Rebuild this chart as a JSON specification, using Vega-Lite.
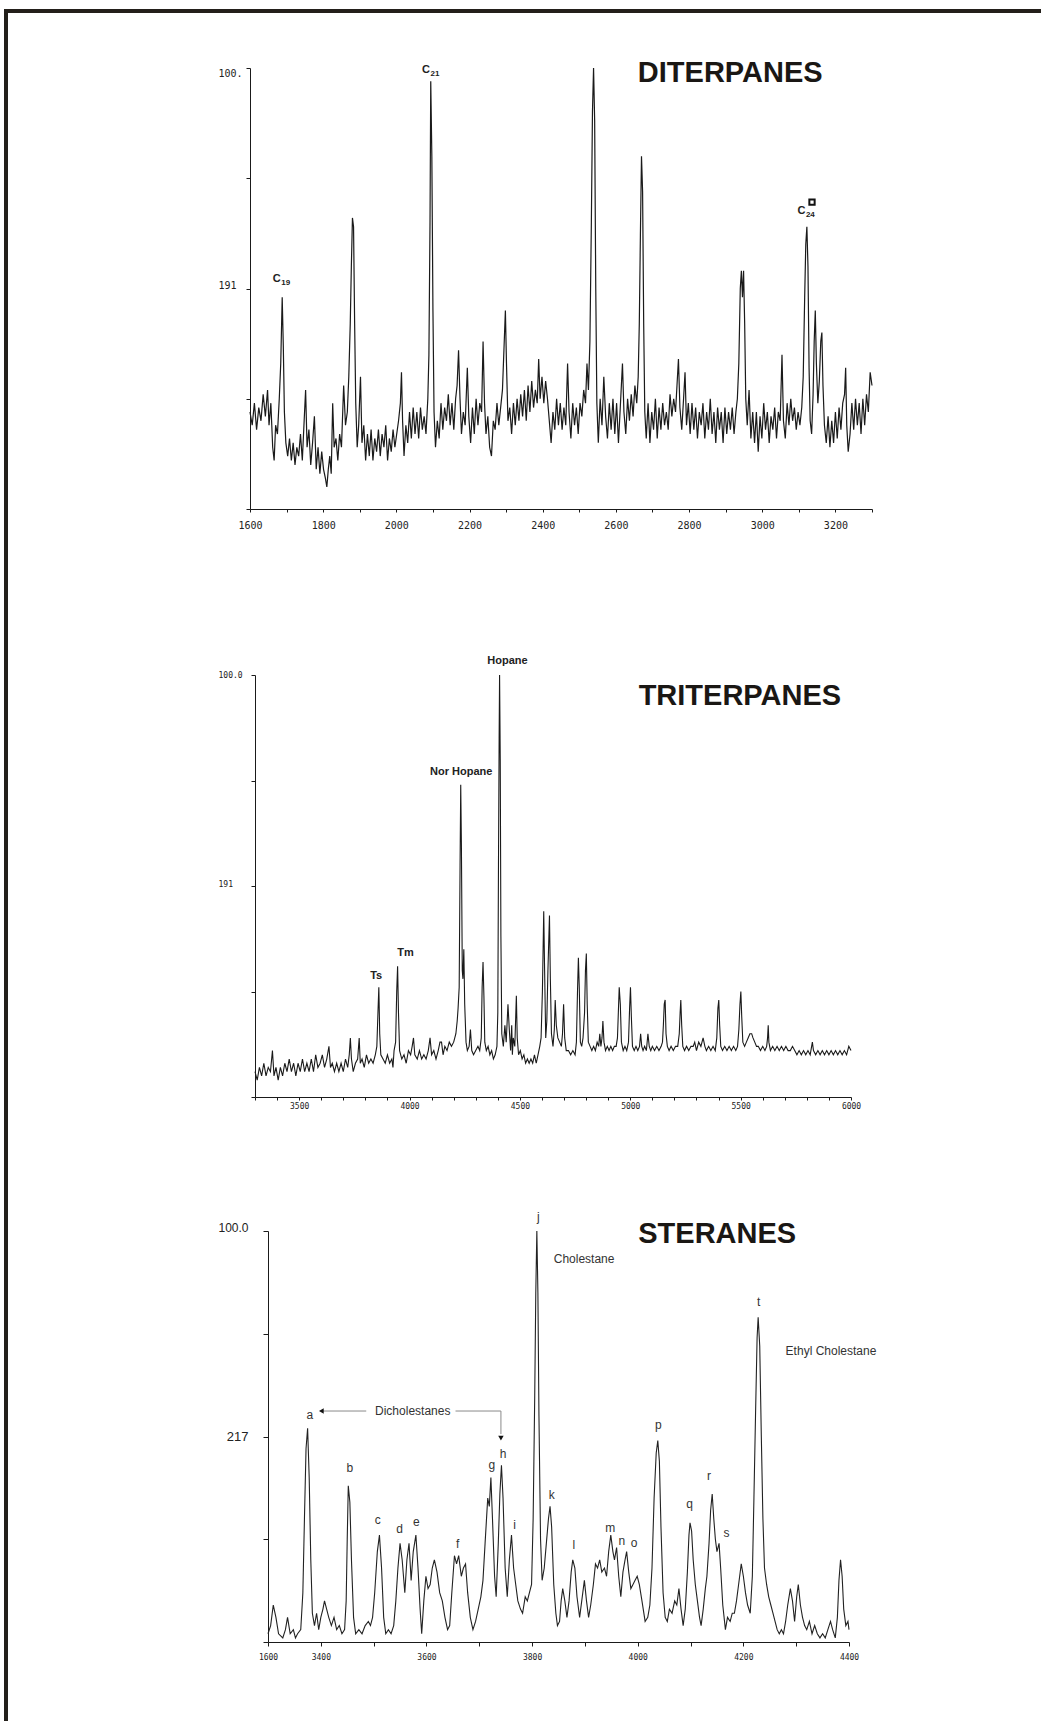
{
"$schema": "https://vega.github.io/schema/vega-lite/v6.json",
"padding": {"left": 4, "top": 9, "right": 0, "bottom": 0},
"background": "white",
"config": {"view": {"stroke": null}, "font": "Liberation Sans", "axis": {"grid": false, "domainColor": "#1a1a1a", "tickColor": "#1a1a1a", "labelColor": "#222", "labelFlush": false, "labelOverlap": false}},
"datasets": {
"dit": [{"t":1600,"v":22},{"t":1606,"v":19},{"t":1612,"v":24},{"t":1618,"v":18},{"t":1624,"v":23},{"t":1630,"v":20},{"t":1636,"v":26},{"t":1642,"v":21},{"t":1648,"v":27},{"t":1652,"v":19},{"t":1657,"v":24},{"t":1662,"v":14},{"t":1666,"v":11},{"t":1670,"v":19},{"t":1675,"v":17},{"t":1680,"v":25},{"t":1684,"v":33},{"t":1688,"v":48},{"t":1691,"v":37},{"t":1694,"v":22},{"t":1698,"v":15},{"t":1703,"v":12},{"t":1708,"v":16},{"t":1713,"v":11},{"t":1718,"v":15},{"t":1723,"v":10},{"t":1728,"v":14},{"t":1733,"v":12},{"t":1738,"v":17},{"t":1743,"v":11},{"t":1748,"v":20},{"t":1752,"v":27},{"t":1756,"v":14},{"t":1761,"v":18},{"t":1766,"v":10},{"t":1771,"v":15},{"t":1776,"v":21},{"t":1781,"v":9},{"t":1786,"v":14},{"t":1791,"v":8},{"t":1796,"v":13},{"t":1801,"v":9},{"t":1806,"v":7},{"t":1810,"v":5},{"t":1814,"v":9},{"t":1818,"v":12},{"t":1822,"v":8},{"t":1826,"v":24},{"t":1830,"v":14},{"t":1835,"v":16},{"t":1840,"v":11},{"t":1845,"v":17},{"t":1850,"v":14},{"t":1856,"v":28},{"t":1861,"v":19},{"t":1866,"v":22},{"t":1870,"v":30},{"t":1874,"v":42},{"t":1877,"v":55},{"t":1880,"v":66},{"t":1883,"v":64},{"t":1886,"v":42},{"t":1889,"v":24},{"t":1893,"v":14},{"t":1897,"v":19},{"t":1902,"v":30},{"t":1906,"v":15},{"t":1911,"v":19},{"t":1916,"v":11},{"t":1921,"v":17},{"t":1926,"v":12},{"t":1931,"v":18},{"t":1936,"v":11},{"t":1941,"v":16},{"t":1946,"v":13},{"t":1951,"v":18},{"t":1956,"v":12},{"t":1961,"v":17},{"t":1966,"v":14},{"t":1971,"v":19},{"t":1976,"v":11},{"t":1981,"v":16},{"t":1986,"v":13},{"t":1991,"v":18},{"t":1996,"v":14},{"t":2001,"v":17},{"t":2006,"v":20},{"t":2011,"v":24},{"t":2014,"v":31},{"t":2017,"v":20},{"t":2021,"v":12},{"t":2026,"v":19},{"t":2031,"v":15},{"t":2036,"v":22},{"t":2041,"v":16},{"t":2046,"v":23},{"t":2051,"v":17},{"t":2056,"v":22},{"t":2061,"v":16},{"t":2066,"v":23},{"t":2071,"v":18},{"t":2076,"v":21},{"t":2081,"v":17},{"t":2086,"v":25},{"t":2089,"v":35},{"t":2092,"v":65},{"t":2094,"v":97},{"t":2097,"v":80},{"t":2100,"v":45},{"t":2103,"v":22},{"t":2107,"v":14},{"t":2112,"v":20},{"t":2117,"v":16},{"t":2122,"v":24},{"t":2127,"v":18},{"t":2132,"v":23},{"t":2137,"v":20},{"t":2142,"v":26},{"t":2147,"v":19},{"t":2152,"v":24},{"t":2157,"v":18},{"t":2162,"v":25},{"t":2166,"v":28},{"t":2170,"v":36},{"t":2174,"v":25},{"t":2178,"v":17},{"t":2183,"v":22},{"t":2188,"v":19},{"t":2194,"v":32},{"t":2198,"v":21},{"t":2203,"v":15},{"t":2208,"v":23},{"t":2213,"v":17},{"t":2218,"v":25},{"t":2223,"v":19},{"t":2228,"v":24},{"t":2233,"v":22},{"t":2237,"v":38},{"t":2241,"v":24},{"t":2245,"v":17},{"t":2250,"v":21},{"t":2255,"v":14},{"t":2260,"v":12},{"t":2265,"v":20},{"t":2270,"v":18},{"t":2275,"v":24},{"t":2280,"v":19},{"t":2285,"v":23},{"t":2290,"v":27},{"t":2294,"v":36},{"t":2298,"v":45},{"t":2301,"v":33},{"t":2305,"v":20},{"t":2310,"v":23},{"t":2315,"v":17},{"t":2320,"v":24},{"t":2325,"v":19},{"t":2330,"v":25},{"t":2335,"v":20},{"t":2340,"v":26},{"t":2345,"v":21},{"t":2350,"v":27},{"t":2355,"v":20},{"t":2360,"v":28},{"t":2365,"v":22},{"t":2370,"v":29},{"t":2375,"v":23},{"t":2380,"v":27},{"t":2385,"v":24},{"t":2389,"v":34},{"t":2393,"v":25},{"t":2398,"v":30},{"t":2403,"v":24},{"t":2408,"v":29},{"t":2413,"v":25},{"t":2418,"v":20},{"t":2423,"v":15},{"t":2428,"v":22},{"t":2433,"v":18},{"t":2438,"v":25},{"t":2443,"v":19},{"t":2448,"v":24},{"t":2453,"v":18},{"t":2458,"v":23},{"t":2463,"v":19},{"t":2468,"v":33},{"t":2472,"v":22},{"t":2477,"v":16},{"t":2482,"v":24},{"t":2487,"v":19},{"t":2492,"v":23},{"t":2497,"v":17},{"t":2502,"v":24},{"t":2507,"v":21},{"t":2512,"v":27},{"t":2517,"v":24},{"t":2521,"v":33},{"t":2525,"v":27},{"t":2529,"v":38},{"t":2533,"v":65},{"t":2536,"v":90},{"t":2539,"v":100},{"t":2542,"v":88},{"t":2545,"v":50},{"t":2548,"v":24},{"t":2552,"v":15},{"t":2557,"v":25},{"t":2562,"v":19},{"t":2567,"v":30},{"t":2572,"v":21},{"t":2577,"v":16},{"t":2582,"v":24},{"t":2587,"v":18},{"t":2592,"v":25},{"t":2597,"v":17},{"t":2602,"v":24},{"t":2607,"v":15},{"t":2612,"v":23},{"t":2618,"v":33},{"t":2622,"v":22},{"t":2627,"v":17},{"t":2632,"v":25},{"t":2637,"v":20},{"t":2642,"v":26},{"t":2647,"v":21},{"t":2652,"v":28},{"t":2657,"v":24},{"t":2661,"v":30},{"t":2664,"v":42},{"t":2667,"v":62},{"t":2670,"v":80},{"t":2673,"v":72},{"t":2676,"v":42},{"t":2679,"v":22},{"t":2683,"v":16},{"t":2688,"v":24},{"t":2693,"v":15},{"t":2698,"v":22},{"t":2703,"v":18},{"t":2708,"v":25},{"t":2713,"v":16},{"t":2718,"v":23},{"t":2723,"v":18},{"t":2728,"v":24},{"t":2733,"v":19},{"t":2738,"v":22},{"t":2743,"v":18},{"t":2748,"v":26},{"t":2753,"v":21},{"t":2758,"v":25},{"t":2763,"v":22},{"t":2767,"v":28},{"t":2771,"v":34},{"t":2775,"v":23},{"t":2780,"v":18},{"t":2785,"v":25},{"t":2789,"v":31},{"t":2793,"v":19},{"t":2798,"v":24},{"t":2803,"v":17},{"t":2808,"v":24},{"t":2813,"v":18},{"t":2818,"v":23},{"t":2823,"v":16},{"t":2828,"v":22},{"t":2833,"v":19},{"t":2838,"v":24},{"t":2843,"v":16},{"t":2848,"v":22},{"t":2853,"v":18},{"t":2858,"v":25},{"t":2863,"v":17},{"t":2868,"v":22},{"t":2873,"v":15},{"t":2878,"v":23},{"t":2883,"v":18},{"t":2888,"v":22},{"t":2893,"v":15},{"t":2898,"v":23},{"t":2903,"v":17},{"t":2908,"v":22},{"t":2913,"v":18},{"t":2918,"v":23},{"t":2923,"v":17},{"t":2928,"v":22},{"t":2932,"v":25},{"t":2936,"v":33},{"t":2940,"v":50},{"t":2943,"v":54},{"t":2946,"v":48},{"t":2949,"v":54},{"t":2952,"v":42},{"t":2955,"v":25},{"t":2959,"v":19},{"t":2964,"v":27},{"t":2969,"v":16},{"t":2974,"v":22},{"t":2979,"v":15},{"t":2984,"v":22},{"t":2989,"v":13},{"t":2994,"v":21},{"t":2999,"v":16},{"t":3004,"v":24},{"t":3009,"v":18},{"t":3014,"v":22},{"t":3019,"v":15},{"t":3024,"v":21},{"t":3029,"v":18},{"t":3034,"v":23},{"t":3039,"v":16},{"t":3044,"v":22},{"t":3049,"v":20},{"t":3054,"v":35},{"t":3058,"v":20},{"t":3063,"v":16},{"t":3068,"v":24},{"t":3073,"v":19},{"t":3078,"v":25},{"t":3083,"v":20},{"t":3088,"v":23},{"t":3093,"v":18},{"t":3098,"v":22},{"t":3103,"v":19},{"t":3108,"v":23},{"t":3112,"v":30},{"t":3116,"v":48},{"t":3119,"v":60},{"t":3122,"v":64},{"t":3125,"v":55},{"t":3128,"v":32},{"t":3131,"v":20},{"t":3135,"v":17},{"t":3139,"v":26},{"t":3142,"v":38},{"t":3145,"v":45},{"t":3148,"v":33},{"t":3152,"v":24},{"t":3156,"v":29},{"t":3160,"v":38},{"t":3163,"v":40},{"t":3166,"v":28},{"t":3170,"v":19},{"t":3175,"v":15},{"t":3180,"v":21},{"t":3185,"v":14},{"t":3190,"v":20},{"t":3195,"v":15},{"t":3200,"v":22},{"t":3205,"v":16},{"t":3210,"v":23},{"t":3215,"v":18},{"t":3220,"v":24},{"t":3225,"v":26},{"t":3228,"v":32},{"t":3231,"v":19},{"t":3235,"v":13},{"t":3240,"v":17},{"t":3245,"v":24},{"t":3250,"v":18},{"t":3255,"v":25},{"t":3260,"v":19},{"t":3265,"v":24},{"t":3270,"v":17},{"t":3275,"v":25},{"t":3280,"v":19},{"t":3285,"v":26},{"t":3290,"v":22},{"t":3295,"v":31},{"t":3300,"v":28}],
"tri": [{"t":3300,"v":6},{"t":3310,"v":4},{"t":3320,"v":7},{"t":3330,"v":5},{"t":3340,"v":8},{"t":3350,"v":5},{"t":3360,"v":7},{"t":3370,"v":6},{"t":3379,"v":11},{"t":3386,"v":5},{"t":3395,"v":7},{"t":3405,"v":4},{"t":3415,"v":7},{"t":3425,"v":5},{"t":3435,"v":8},{"t":3445,"v":6},{"t":3455,"v":9},{"t":3465,"v":6},{"t":3475,"v":8},{"t":3485,"v":5},{"t":3495,"v":8},{"t":3505,"v":6},{"t":3515,"v":9},{"t":3525,"v":6},{"t":3535,"v":8},{"t":3545,"v":6},{"t":3555,"v":9},{"t":3565,"v":6},{"t":3575,"v":10},{"t":3585,"v":7},{"t":3595,"v":8},{"t":3605,"v":10},{"t":3615,"v":7},{"t":3625,"v":9},{"t":3635,"v":12},{"t":3642,"v":7},{"t":3650,"v":8},{"t":3660,"v":6},{"t":3670,"v":8},{"t":3680,"v":6},{"t":3690,"v":8},{"t":3700,"v":6},{"t":3710,"v":9},{"t":3720,"v":7},{"t":3727,"v":10},{"t":3732,"v":14},{"t":3737,"v":9},{"t":3745,"v":6},{"t":3755,"v":8},{"t":3765,"v":9},{"t":3772,"v":14},{"t":3777,"v":8},{"t":3785,"v":9},{"t":3795,"v":7},{"t":3805,"v":10},{"t":3815,"v":8},{"t":3825,"v":9},{"t":3835,"v":8},{"t":3845,"v":10},{"t":3852,"v":12},{"t":3857,"v":20},{"t":3861,"v":26},{"t":3865,"v":15},{"t":3870,"v":10},{"t":3880,"v":9},{"t":3890,"v":8},{"t":3900,"v":10},{"t":3910,"v":8},{"t":3920,"v":9},{"t":3925,"v":7},{"t":3930,"v":11},{"t":3937,"v":13},{"t":3942,"v":25},{"t":3946,"v":31},{"t":3950,"v":20},{"t":3955,"v":11},{"t":3965,"v":9},{"t":3975,"v":10},{"t":3985,"v":8},{"t":3995,"v":11},{"t":4005,"v":10},{"t":4012,"v":12},{"t":4018,"v":14},{"t":4024,"v":10},{"t":4035,"v":9},{"t":4045,"v":11},{"t":4055,"v":9},{"t":4065,"v":10},{"t":4075,"v":9},{"t":4085,"v":11},{"t":4093,"v":14},{"t":4100,"v":10},{"t":4110,"v":11},{"t":4120,"v":9},{"t":4130,"v":11},{"t":4138,"v":13},{"t":4145,"v":13},{"t":4152,"v":10},{"t":4160,"v":12},{"t":4170,"v":11},{"t":4180,"v":13},{"t":4190,"v":12},{"t":4200,"v":13},{"t":4210,"v":15},{"t":4216,"v":18},{"t":4220,"v":21},{"t":4225,"v":26},{"t":4229,"v":55},{"t":4232,"v":74},{"t":4235,"v":60},{"t":4239,"v":30},{"t":4242,"v":28},{"t":4246,"v":35},{"t":4250,"v":22},{"t":4256,"v":13},{"t":4262,"v":11},{"t":4270,"v":12},{"t":4276,"v":16},{"t":4282,"v":11},{"t":4290,"v":10},{"t":4300,"v":11},{"t":4310,"v":12},{"t":4318,"v":11},{"t":4325,"v":14},{"t":4329,"v":26},{"t":4333,"v":32},{"t":4337,"v":24},{"t":4341,"v":13},{"t":4348,"v":11},{"t":4356,"v":12},{"t":4364,"v":10},{"t":4372,"v":11},{"t":4380,"v":9},{"t":4388,"v":10},{"t":4396,"v":12},{"t":4400,"v":20},{"t":4403,"v":55},{"t":4406,"v":85},{"t":4408,"v":100},{"t":4411,"v":80},{"t":4414,"v":38},{"t":4418,"v":15},{"t":4425,"v":12},{"t":4432,"v":17},{"t":4438,"v":13},{"t":4446,"v":22},{"t":4452,"v":16},{"t":4458,"v":11},{"t":4463,"v":17},{"t":4466,"v":10},{"t":4470,"v":14},{"t":4477,"v":12},{"t":4484,"v":24},{"t":4488,"v":14},{"t":4494,"v":10},{"t":4502,"v":11},{"t":4510,"v":9},{"t":4518,"v":10},{"t":4526,"v":8},{"t":4534,"v":9},{"t":4542,"v":8},{"t":4550,"v":9},{"t":4558,"v":8},{"t":4566,"v":10},{"t":4574,"v":8},{"t":4582,"v":10},{"t":4590,"v":12},{"t":4596,"v":14},{"t":4602,"v":25},{"t":4608,"v":44},{"t":4612,"v":30},{"t":4617,"v":14},{"t":4622,"v":18},{"t":4627,"v":30},{"t":4634,"v":43},{"t":4638,"v":28},{"t":4643,"v":15},{"t":4650,"v":12},{"t":4656,"v":16},{"t":4660,"v":23},{"t":4665,"v":17},{"t":4672,"v":14},{"t":4680,"v":13},{"t":4688,"v":12},{"t":4693,"v":15},{"t":4698,"v":22},{"t":4703,"v":14},{"t":4710,"v":11},{"t":4720,"v":11},{"t":4730,"v":10},{"t":4740,"v":11},{"t":4750,"v":10},{"t":4756,"v":13},{"t":4761,"v":25},{"t":4765,"v":33},{"t":4769,"v":26},{"t":4774,"v":13},{"t":4780,"v":12},{"t":4786,"v":14},{"t":4793,"v":20},{"t":4797,"v":30},{"t":4801,"v":34},{"t":4805,"v":22},{"t":4810,"v":13},{"t":4818,"v":12},{"t":4826,"v":11},{"t":4834,"v":12},{"t":4842,"v":11},{"t":4850,"v":13},{"t":4857,"v":12},{"t":4862,"v":15},{"t":4867,"v":12},{"t":4872,"v":14},{"t":4876,"v":18},{"t":4881,"v":13},{"t":4888,"v":11},{"t":4896,"v":12},{"t":4904,"v":11},{"t":4912,"v":12},{"t":4920,"v":11},{"t":4928,"v":12},{"t":4936,"v":12},{"t":4942,"v":14},{"t":4946,"v":20},{"t":4950,"v":26},{"t":4955,"v":22},{"t":4960,"v":13},{"t":4968,"v":11},{"t":4976,"v":12},{"t":4984,"v":11},{"t":4992,"v":13},{"t":4997,"v":21},{"t":5001,"v":26},{"t":5005,"v":19},{"t":5010,"v":12},{"t":5018,"v":11},{"t":5026,"v":12},{"t":5034,"v":11},{"t":5042,"v":12},{"t":5047,"v":15},{"t":5052,"v":12},{"t":5058,"v":11},{"t":5065,"v":12},{"t":5073,"v":11},{"t":5080,"v":15},{"t":5086,"v":12},{"t":5093,"v":11},{"t":5100,"v":12},{"t":5110,"v":11},{"t":5120,"v":12},{"t":5130,"v":11},{"t":5140,"v":12},{"t":5146,"v":13},{"t":5150,"v":17},{"t":5154,"v":22},{"t":5158,"v":23},{"t":5162,"v":15},{"t":5168,"v":12},{"t":5176,"v":11},{"t":5185,"v":12},{"t":5195,"v":11},{"t":5205,"v":12},{"t":5215,"v":12},{"t":5222,"v":15},{"t":5226,"v":20},{"t":5229,"v":23},{"t":5233,"v":17},{"t":5238,"v":12},{"t":5246,"v":11},{"t":5255,"v":12},{"t":5265,"v":11},{"t":5275,"v":12},{"t":5285,"v":12},{"t":5292,"v":13},{"t":5300,"v":11},{"t":5310,"v":13},{"t":5320,"v":12},{"t":5330,"v":14},{"t":5338,"v":12},{"t":5345,"v":11},{"t":5355,"v":12},{"t":5365,"v":11},{"t":5375,"v":12},{"t":5385,"v":11},{"t":5392,"v":14},{"t":5397,"v":21},{"t":5401,"v":23},{"t":5405,"v":17},{"t":5410,"v":12},{"t":5418,"v":11},{"t":5428,"v":12},{"t":5438,"v":11},{"t":5448,"v":12},{"t":5458,"v":11},{"t":5468,"v":12},{"t":5478,"v":11},{"t":5486,"v":12},{"t":5492,"v":16},{"t":5497,"v":22},{"t":5501,"v":25},{"t":5505,"v":19},{"t":5510,"v":13},{"t":5518,"v":12},{"t":5526,"v":13},{"t":5534,"v":14},{"t":5542,"v":15},{"t":5550,"v":15},{"t":5556,"v":14},{"t":5564,"v":13},{"t":5572,"v":12},{"t":5580,"v":12},{"t":5590,"v":11},{"t":5600,"v":12},{"t":5610,"v":11},{"t":5618,"v":12},{"t":5622,"v":14},{"t":5625,"v":17},{"t":5628,"v":13},{"t":5635,"v":11},{"t":5645,"v":12},{"t":5655,"v":11},{"t":5665,"v":12},{"t":5675,"v":11},{"t":5685,"v":12},{"t":5695,"v":11},{"t":5705,"v":12},{"t":5715,"v":11},{"t":5725,"v":11},{"t":5735,"v":12},{"t":5745,"v":11},{"t":5755,"v":10},{"t":5765,"v":11},{"t":5775,"v":10},{"t":5785,"v":11},{"t":5795,"v":10},{"t":5805,"v":11},{"t":5815,"v":10},{"t":5825,"v":13},{"t":5830,"v":11},{"t":5840,"v":10},{"t":5850,"v":11},{"t":5860,"v":10},{"t":5870,"v":11},{"t":5880,"v":10},{"t":5890,"v":11},{"t":5900,"v":10},{"t":5910,"v":11},{"t":5920,"v":10},{"t":5930,"v":11},{"t":5940,"v":10},{"t":5950,"v":11},{"t":5960,"v":10},{"t":5970,"v":11},{"t":5980,"v":10},{"t":5990,"v":12},{"t":6000,"v":11}],
"ste": [{"t":3300,"v":2},{"t":3305,"v":4},{"t":3310,"v":9},{"t":3315,"v":6},{"t":3320,"v":2},{"t":3328,"v":1},{"t":3333,"v":3},{"t":3337,"v":6},{"t":3342,"v":2},{"t":3348,"v":3},{"t":3352,"v":1},{"t":3356,"v":2},{"t":3362,"v":3},{"t":3366,"v":12},{"t":3369,"v":30},{"t":3372,"v":47},{"t":3375,"v":52},{"t":3378,"v":40},{"t":3381,"v":20},{"t":3384,"v":7},{"t":3388,"v":4},{"t":3392,"v":7},{"t":3396,"v":3},{"t":3400,"v":6},{"t":3404,"v":8},{"t":3407,"v":10},{"t":3411,"v":8},{"t":3415,"v":6},{"t":3420,"v":4},{"t":3425,"v":6},{"t":3430,"v":3},{"t":3435,"v":4},{"t":3440,"v":2},{"t":3445,"v":3},{"t":3448,"v":10},{"t":3450,"v":25},{"t":3452,"v":38},{"t":3455,"v":34},{"t":3458,"v":20},{"t":3462,"v":6},{"t":3466,"v":2},{"t":3472,"v":3},{"t":3478,"v":2},{"t":3484,"v":4},{"t":3490,"v":5},{"t":3494,"v":4},{"t":3498,"v":6},{"t":3502,"v":12},{"t":3507,"v":22},{"t":3511,"v":26},{"t":3515,"v":18},{"t":3519,"v":6},{"t":3523,"v":2},{"t":3528,"v":3},{"t":3533,"v":2},{"t":3538,"v":4},{"t":3542,"v":10},{"t":3546,"v":18},{"t":3550,"v":24},{"t":3554,"v":20},{"t":3559,"v":12},{"t":3563,"v":20},{"t":3567,"v":24},{"t":3571,"v":15},{"t":3575,"v":22},{"t":3580,"v":26},{"t":3584,"v":18},{"t":3588,"v":8},{"t":3591,"v":2},{"t":3595,"v":10},{"t":3599,"v":16},{"t":3603,"v":13},{"t":3607,"v":14},{"t":3611,"v":18},{"t":3615,"v":20},{"t":3620,"v":17},{"t":3625,"v":12},{"t":3630,"v":10},{"t":3635,"v":6},{"t":3640,"v":3},{"t":3644,"v":4},{"t":3648,"v":12},{"t":3653,"v":21},{"t":3657,"v":19},{"t":3661,"v":21},{"t":3666,"v":16},{"t":3670,"v":18},{"t":3674,"v":19},{"t":3678,"v":12},{"t":3683,"v":6},{"t":3688,"v":3},{"t":3693,"v":5},{"t":3698,"v":8},{"t":3703,"v":11},{"t":3707,"v":15},{"t":3711,"v":24},{"t":3716,"v":35},{"t":3719,"v":33},{"t":3722,"v":40},{"t":3725,"v":30},{"t":3729,"v":16},{"t":3732,"v":11},{"t":3736,"v":24},{"t":3739,"v":36},{"t":3742,"v":43},{"t":3745,"v":35},{"t":3749,"v":18},{"t":3753,"v":11},{"t":3757,"v":20},{"t":3761,"v":26},{"t":3765,"v":18},{"t":3769,"v":14},{"t":3773,"v":10},{"t":3778,"v":8},{"t":3782,"v":7},{"t":3787,"v":11},{"t":3791,"v":10},{"t":3795,"v":12},{"t":3799,"v":14},{"t":3802,"v":30},{"t":3805,"v":60},{"t":3807,"v":85},{"t":3809,"v":100},{"t":3811,"v":85},{"t":3813,"v":55},{"t":3816,"v":25},{"t":3819,"v":15},{"t":3823,"v":18},{"t":3827,"v":24},{"t":3831,"v":30},{"t":3834,"v":33},{"t":3837,"v":28},{"t":3841,"v":14},{"t":3845,"v":7},{"t":3848,"v":4},{"t":3852,"v":5},{"t":3855,"v":10},{"t":3858,"v":13},{"t":3862,"v":10},{"t":3866,"v":6},{"t":3870,"v":10},{"t":3874,"v":17},{"t":3877,"v":20},{"t":3881,"v":18},{"t":3885,"v":11},{"t":3890,"v":6},{"t":3894,"v":10},{"t":3899,"v":15},{"t":3903,"v":10},{"t":3907,"v":6},{"t":3911,"v":9},{"t":3916,"v":14},{"t":3920,"v":19},{"t":3924,"v":18},{"t":3928,"v":20},{"t":3932,"v":17},{"t":3937,"v":18},{"t":3941,"v":16},{"t":3945,"v":22},{"t":3949,"v":26},{"t":3953,"v":22},{"t":3956,"v":20},{"t":3960,"v":23},{"t":3964,"v":16},{"t":3968,"v":11},{"t":3972,"v":17},{"t":3976,"v":20},{"t":3979,"v":22},{"t":3983,"v":17},{"t":3987,"v":13},{"t":3991,"v":14},{"t":3995,"v":15},{"t":3999,"v":16},{"t":4003,"v":14},{"t":4008,"v":10},{"t":4014,"v":5},{"t":4019,"v":6},{"t":4023,"v":9},{"t":4027,"v":18},{"t":4031,"v":35},{"t":4035,"v":46},{"t":4038,"v":49},{"t":4041,"v":44},{"t":4044,"v":28},{"t":4048,"v":12},{"t":4052,"v":6},{"t":4056,"v":5},{"t":4060,"v":8},{"t":4065,"v":7},{"t":4070,"v":10},{"t":4074,"v":9},{"t":4078,"v":13},{"t":4082,"v":8},{"t":4086,"v":4},{"t":4090,"v":8},{"t":4094,"v":17},{"t":4097,"v":26},{"t":4099,"v":29},{"t":4102,"v":27},{"t":4105,"v":20},{"t":4109,"v":14},{"t":4113,"v":10},{"t":4117,"v":6},{"t":4120,"v":4},{"t":4124,"v":8},{"t":4128,"v":13},{"t":4131,"v":16},{"t":4135,"v":24},{"t":4138,"v":32},{"t":4141,"v":36},{"t":4144,"v":30},{"t":4147,"v":25},{"t":4150,"v":22},{"t":4154,"v":24},{"t":4157,"v":18},{"t":4161,"v":9},{"t":4166,"v":3},{"t":4170,"v":6},{"t":4175,"v":5},{"t":4179,"v":7},{"t":4183,"v":7},{"t":4187,"v":10},{"t":4191,"v":14},{"t":4196,"v":19},{"t":4200,"v":16},{"t":4204,"v":12},{"t":4208,"v":9},{"t":4213,"v":7},{"t":4217,"v":16},{"t":4220,"v":35},{"t":4223,"v":55},{"t":4226,"v":74},{"t":4228,"v":79},{"t":4231,"v":72},{"t":4234,"v":50},{"t":4237,"v":30},{"t":4240,"v":18},{"t":4244,"v":14},{"t":4248,"v":11},{"t":4252,"v":9},{"t":4256,"v":7},{"t":4260,"v":5},{"t":4264,"v":3},{"t":4268,"v":2},{"t":4272,"v":3},{"t":4276,"v":2},{"t":4280,"v":5},{"t":4284,"v":9},{"t":4289,"v":13},{"t":4293,"v":10},{"t":4297,"v":5},{"t":4301,"v":11},{"t":4304,"v":14},{"t":4308,"v":9},{"t":4312,"v":6},{"t":4316,"v":4},{"t":4320,"v":3},{"t":4325,"v":5},{"t":4330,"v":2},{"t":4335,"v":4},{"t":4340,"v":2},{"t":4345,"v":1},{"t":4350,"v":2},{"t":4355,"v":1},{"t":4360,"v":3},{"t":4365,"v":5},{"t":4369,"v":3},{"t":4374,"v":1},{"t":4378,"v":6},{"t":4381,"v":15},{"t":4384,"v":20},{"t":4387,"v":16},{"t":4390,"v":8},{"t":4394,"v":4},{"t":4398,"v":5},{"t":4400,"v":3}]
},
"vconcat": [
 {"width": 1037, "height": 4, "view": {"fill": "#231f1a", "stroke": null}, "data": {"values": [{}]}, "mark": {"type": "point", "opacity": 0, "size": 1}},
 {"hconcat": [
  {"width": 4, "height": 1708, "view": {"fill": "#231f1a", "stroke": null}, "data": {"values": [{}]}, "mark": {"type": "point", "opacity": 0, "size": 1}},
  {"concat": [
   {"width": 20, "height": 45, "data": {"values": [{}]}, "mark": {"type": "point", "opacity": 0, "size": 1}},
   {"concat": [
    {"hconcat": [
     {"width": 210, "height": 10, "data": {"values": [{}]}, "mark": {"type": "point", "opacity": 0, "size": 1}},
     {"width": 622, "height": 441,
      "encoding": {
       "x": {"field": "t", "type": "quantitative", "scale": {"domain": [1600, 3300], "nice": false, "zero": false},
             "axis": {"title": null, "values": [1600,1700,1800,1900,2000,2100,2200,2300,2400,2500,2600,2700,2800,2900,3000,3100,3200,3300], "format": "d", "labelExpr": "datum.value % 200 == 0 ? datum.label : ''", "tickSize": 3, "labelPadding": 8, "labelFont": "DejaVu Sans Mono", "labelFontSize": 10}},
       "y": {"field": "v", "type": "quantitative", "scale": {"domain": [0, 100], "nice": false},
             "axis": {"title": null, "values": [0,25,50,75,100], "labelExpr": "datum.value == 100 ? '100.' : (datum.value == 50 ? '191' : '')", "tickSize": 4, "labelPadding": 28, "labelAlign": "left", "labelBaseline": {"condition": {"test": "datum.value == 100", "value": "top"}, "value": "alphabetic"}, "labelFont": "DejaVu Sans Mono", "labelFontSize": 10}}
      },
      "layer": [
       {"data": {"name": "dit"}, "mark": {"type": "line", "color": "#1a1a1a", "strokeWidth": 1.2}},
       {"data": {"values": [{"t": 2660, "v": 96.9, "label": "DITERPANES"}]},
        "mark": {"type": "text", "font": "Liberation Sans", "fontWeight": "bold", "fontSize": 29, "align": "left", "baseline": "alphabetic", "color": "#1a1714"},
        "encoding": {"text": {"field": "label"}}},
       {"data": {"values": [{"t": 1684, "v": 52.1, "sub": "19"}, {"t": 2092, "v": 99.6, "sub": "21"}, {"t": 3118, "v": 67.5, "sub": "24"}]},
        "mark": {"type": "text", "text": "C", "font": "Liberation Sans", "fontWeight": "bold", "fontSize": 11, "align": "right", "baseline": "middle", "color": "#222"}},
       {"data": {"values": [{"t": 1684, "v": 52.1, "sub": "19"}, {"t": 2092, "v": 99.6, "sub": "21"}, {"t": 3118, "v": 67.5, "sub": "24"}]},
        "mark": {"type": "text", "font": "Liberation Sans", "fontWeight": "bold", "fontSize": 8, "align": "left", "baseline": "middle", "dx": 0.5, "dy": 4, "color": "#222"},
        "encoding": {"text": {"field": "sub"}}},
       {"data": {"values": [{"t": 3136, "v": 69.6}]},
        "mark": {"type": "point", "shape": "square", "filled": false, "stroke": "#111", "strokeWidth": 2, "size": 28, "opacity": 1}}
      ]}
    ], "spacing": 0},
    {"concat": [
     {"hconcat": [
      {"width": 210, "height": 10, "data": {"values": [{}]}, "mark": {"type": "point", "opacity": 0, "size": 1}},
      {"width": 596, "height": 422,
       "encoding": {
        "x": {"field": "t", "type": "quantitative", "scale": {"domain": [3300, 6000], "nice": false, "zero": false},
              "axis": {"title": null, "values": [3300,3400,3500,3600,3700,3800,3900,4000,4100,4200,4300,4400,4500,4600,4700,4800,4900,5000,5100,5200,5300,5400,5500,5600,5700,5800,5900,6000], "format": "d", "labelExpr": "datum.value % 500 == 0 ? datum.label : ''", "tickSize": 3, "labelPadding": 2, "labelFont": "DejaVu Sans Mono", "labelFontSize": 8}},
        "y": {"field": "v", "type": "quantitative", "scale": {"domain": [0, 100], "nice": false},
              "axis": {"title": null, "values": [0,25,50,75,100], "labelExpr": "datum.value == 100 ? '100.0' : (datum.value == 50 ? '191' : '')", "tickSize": 4, "labelPadding": 33, "labelAlign": "left", "labelBaseline": {"condition": {"test": "datum.value == 50", "value": "alphabetic"}, "value": "middle"}, "labelFont": "DejaVu Sans Mono", "labelFontSize": 8}}
       },
       "layer": [
        {"data": {"name": "tri"}, "mark": {"type": "line", "color": "#1a1a1a", "strokeWidth": 1.1}},
        {"data": {"values": [{"t": 5038, "v": 92.9, "label": "TRITERPANES"}]},
         "mark": {"type": "text", "font": "Liberation Sans", "fontWeight": "bold", "fontSize": 29, "align": "left", "baseline": "alphabetic", "color": "#1a1714"},
         "encoding": {"text": {"field": "label"}}},
        {"data": {"values": [{"t": 4444, "v": 103.3, "label": "Hopane"}, {"t": 4234, "v": 77.1, "label": "Nor Hopane"}, {"t": 3982, "v": 34.2, "label": "Tm"}, {"t": 3849, "v": 28.6, "label": "Ts"}]},
         "mark": {"type": "text", "font": "Liberation Sans", "fontWeight": "bold", "fontSize": 11, "align": "center", "baseline": "middle", "color": "#222"},
         "encoding": {"text": {"field": "label"}}}
       ]}
     ], "spacing": 0},
     {"hconcat": [
      {"width": 209, "height": 10, "data": {"values": [{}]}, "mark": {"type": "point", "opacity": 0, "size": 1}},
      {"width": 581, "height": 411,
       "encoding": {
        "x": {"field": "t", "type": "quantitative", "scale": {"domain": [3300, 4400], "nice": false, "zero": false},
              "axis": {"title": null, "values": [3300,3400,3500,3600,3700,3800,3900,4000,4100,4200,4300,4400], "format": "d", "labelExpr": "datum.value == 3300 ? '1600' : (datum.value % 200 == 0 ? datum.label : '')", "tickSize": 4, "labelPadding": 7, "labelFont": "DejaVu Sans Mono", "labelFontSize": 8}},
        "y": {"field": "v", "type": "quantitative", "scale": {"domain": [0, 100], "nice": false},
              "axis": {"title": null, "values": [0,25,50,75,100], "labelExpr": "datum.value == 100 ? '100.0' : (datum.value == 50 ? '217' : '')", "tickSize": 5, "labelPadding": 15, "labelBaseline": {"condition": {"test": "datum.value == 100", "value": "alphabetic"}, "value": "middle"}, "labelFont": "Liberation Sans", "labelFontSize": {"condition": {"test": "datum.value == 50", "value": 13}, "value": 12}}}
       },
       "layer": [
        {"data": {"name": "ste"}, "mark": {"type": "line", "color": "#222", "strokeWidth": 1.1}},
        {"data": {"values": [{"t": 4001, "v": 97.2, "label": "STERANES"}]},
         "mark": {"type": "text", "font": "Liberation Sans", "fontWeight": "bold", "fontSize": 29, "align": "left", "baseline": "alphabetic", "color": "#1a1714"},
         "encoding": {"text": {"field": "label"}}},
        {"data": {"values": [{"t": 3402, "t2": 3486, "v": 56.2, "v2": 56.2}, {"t": 3655, "t2": 3741, "v": 56.2, "v2": 56.2}, {"t": 3741, "t2": 3741, "v": 56.2, "v2": 50.6}]},
         "mark": {"type": "rule", "color": "#8a8a8a", "strokeWidth": 1},
         "encoding": {"x2": {"field": "t2"}, "y2": {"field": "v2"}}},
        {"data": {"values": [{"t": 3401, "v": 56.2}]},
         "mark": {"type": "point", "shape": "triangle-left", "filled": true, "color": "#111", "size": 30, "opacity": 1}},
        {"data": {"values": [{"t": 3741, "v": 49.6}]},
         "mark": {"type": "point", "shape": "triangle-down", "filled": true, "color": "#111", "size": 30, "opacity": 1}},
        {"data": {"values": [{"t": 3379, "v": 55.3, "label": "a"}, {"t": 3455, "v": 42.3, "label": "b"}, {"t": 3508, "v": 29.6, "label": "c"}, {"t": 3549, "v": 27.5, "label": "d"}, {"t": 3581, "v": 29.3, "label": "e"}, {"t": 3659, "v": 23.9, "label": "f"}, {"t": 3724, "v": 43.1, "label": "g"}, {"t": 3745, "v": 45.8, "label": "h"}, {"t": 3767, "v": 28.5, "label": "i"}, {"t": 3812, "v": 103.5, "label": "j"}, {"t": 3837, "v": 35.8, "label": "k"}, {"t": 3879, "v": 23.7, "label": "l"}, {"t": 3948, "v": 27.7, "label": "m"}, {"t": 3970, "v": 24.6, "label": "n"}, {"t": 3993, "v": 24.1, "label": "o"}, {"t": 4039, "v": 52.7, "label": "p"}, {"t": 4098, "v": 33.6, "label": "q"}, {"t": 4135, "v": 40.5, "label": "r"}, {"t": 4168, "v": 26.5, "label": "s"}, {"t": 4229, "v": 82.8, "label": "t"}, {"t": 3574, "v": 56.1, "label": "Dicholestanes"}]},
         "mark": {"type": "text", "font": "Liberation Sans", "fontSize": 12, "align": "center", "baseline": "middle", "color": "#333"},
         "encoding": {"text": {"field": "label"}}},
        {"data": {"values": [{"t": 3841, "v": 93.1, "label": "Cholestane"}, {"t": 4280, "v": 70.7, "label": "Ethyl Cholestane"}]},
         "mark": {"type": "text", "font": "Liberation Sans", "fontSize": 12, "align": "left", "baseline": "middle", "color": "#333"},
         "encoding": {"text": {"field": "label"}}}
       ]}
     ], "spacing": 0}
    ], "columns": 1, "align": "none", "spacing": 100}
   ], "columns": 1, "align": "none", "spacing": 125}
  ], "columns": 1, "align": "none", "spacing": 0}
 ], "spacing": 0}
],
"spacing": 0
}
